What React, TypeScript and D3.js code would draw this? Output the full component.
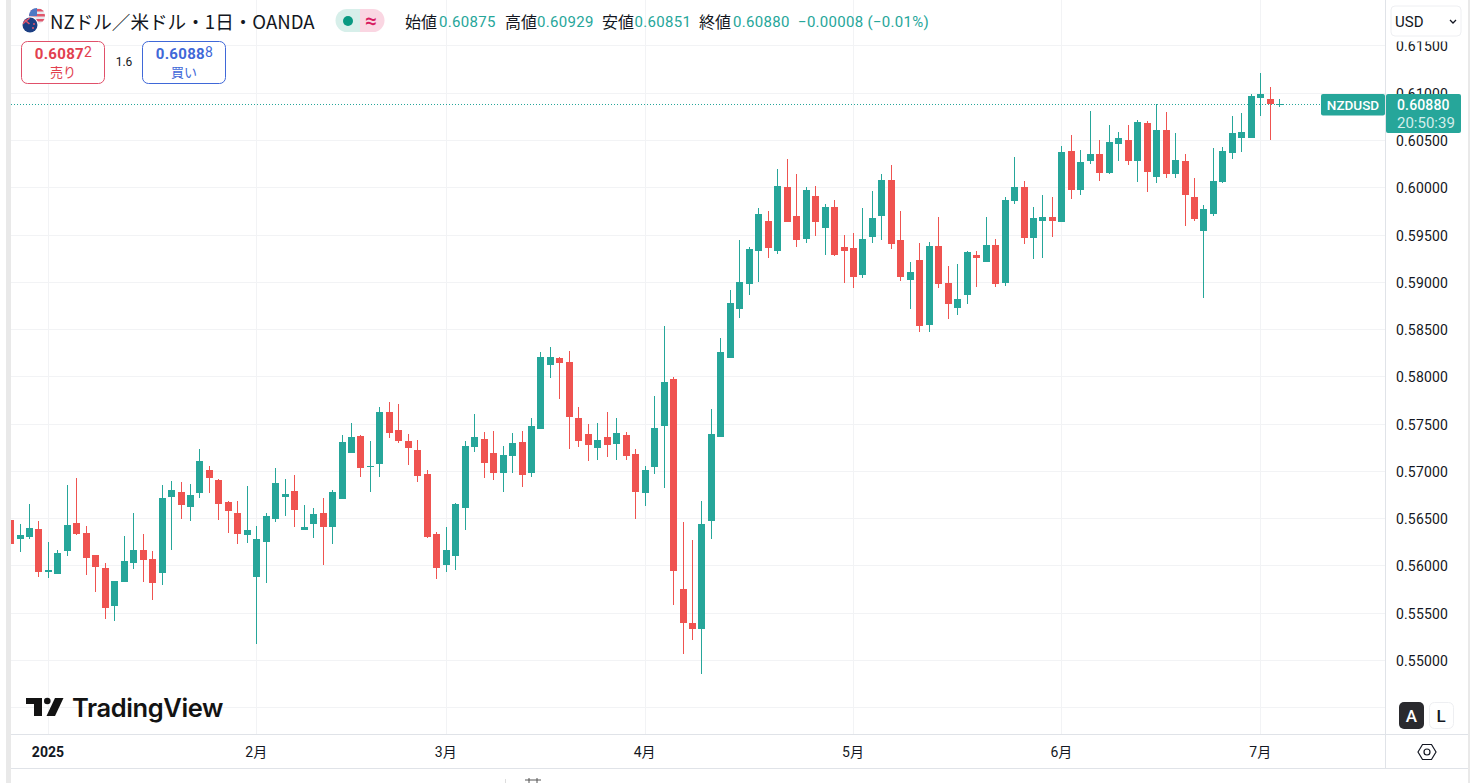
import React from "react";
import * as d3 from "d3";

const opens = [
  0.5648, 0.56279, 0.56301, 0.56385, 0.5593, 0.55909, 0.56153, 0.56449, 0.56343, 0.5611,
  0.55973, 0.55572, 0.55825, 0.56026, 0.56163, 0.56068, 0.5592, 0.56724, 0.56777, 0.56618,
  0.56766, 0.5701, 0.56904, 0.56671, 0.56554, 0.56322, 0.55877, 0.56248, 0.56491, 0.56724,
  0.56787, 0.56375, 0.56438, 0.56554, 0.56406, 0.56703, 0.57189, 0.57369, 0.57041, 0.57073,
  0.57623, 0.57433, 0.57316, 0.57221, 0.56967, 0.56332, 0.56004, 0.561, 0.56607, 0.57253,
  0.57337, 0.57189, 0.56978, 0.57158, 0.57306, 0.56978, 0.57443, 0.5812, 0.58194, 0.58152,
  0.5756, 0.5739, 0.57242, 0.57359, 0.57285, 0.5738, 0.57179, 0.56766, 0.57041, 0.57475,
  0.57972, 0.55751, 0.55392, 0.55328, 0.5647, 0.57359, 0.58194, 0.58713, 0.58978, 0.59327,
  0.59644, 0.59327, 0.60003, 0.59697, 0.59454, 0.59908, 0.5957, 0.59792, 0.59369, 0.59359,
  0.59073, 0.59475, 0.59697, 0.60077, 0.59443, 0.5902, 0.59231, 0.58544, 0.5938, 0.58989,
  0.58723, 0.58861, 0.59284, 0.59211, 0.5939, 0.58989, 0.59855, 0.60003, 0.59464, 0.59644,
  0.59686, 0.59633, 0.60384, 0.59971, 0.60278, 0.60352, 0.60151, 0.60458, 0.605, 0.60278,
  0.6068, 0.60108, 0.60606, 0.6014, 0.60278, 0.59898, 0.59538, 0.59718, 0.60056, 0.60363,
  0.60521, 0.60521, 0.60945, 0.60934, 0.60875,
];
const highs = [
  0.5648, 0.56438, 0.5665, 0.5647, 0.56248, 0.56163, 0.56851, 0.56925, 0.56417, 0.5611,
  0.56026, 0.55835, 0.56311, 0.56554, 0.56332, 0.56153, 0.56851, 0.56893, 0.56883, 0.56861,
  0.57232, 0.57052, 0.56914, 0.56681, 0.56681, 0.5684, 0.56417, 0.56554, 0.57031, 0.56914,
  0.56956, 0.56639, 0.56607, 0.56713, 0.56798, 0.5738, 0.57507, 0.5738, 0.57316, 0.57676,
  0.57729, 0.57708, 0.5739, 0.57327, 0.5701, 0.56353, 0.56406, 0.5666, 0.57316, 0.57602,
  0.57412, 0.57422, 0.57264, 0.57401, 0.57422, 0.5756, 0.58258, 0.58311, 0.58205, 0.58269,
  0.57676, 0.57496, 0.57507, 0.57623, 0.5756, 0.57412, 0.57232, 0.57052, 0.57792, 0.58533,
  0.57993, 0.56459, 0.56269, 0.56681, 0.57655, 0.58406, 0.58914, 0.59443, 0.59369, 0.59781,
  0.5975, 0.60193, 0.60299, 0.6014, 0.60003, 0.60013, 0.59824, 0.59866, 0.59496, 0.59517,
  0.59781, 0.59961, 0.6014, 0.60236, 0.5975, 0.59211, 0.59411, 0.59422, 0.59686, 0.59168,
  0.59189, 0.59327, 0.59327, 0.59686, 0.59454, 0.59898, 0.6032, 0.60066, 0.59792, 0.59919,
  0.59898, 0.60437, 0.60553, 0.60394, 0.60807, 0.605, 0.60659, 0.60585, 0.60659, 0.60712,
  0.60701, 0.60881, 0.60796, 0.60574, 0.60352, 0.60098, 0.59813, 0.60416, 0.60426, 0.60754,
  0.60786, 0.60987, 0.61209, 0.61061, 0.60929,
];
const lows = [
  0.56227, 0.56142, 0.56279, 0.55877, 0.55867, 0.55909, 0.561, 0.56322, 0.55899, 0.55719,
  0.55434, 0.55413, 0.55825, 0.55962, 0.55825, 0.55635, 0.55793, 0.56163, 0.56491, 0.5647,
  0.56713, 0.56766, 0.5648, 0.56343, 0.56227, 0.56237, 0.5517, 0.55814, 0.56459, 0.56523,
  0.56406, 0.56375, 0.5629, 0.56004, 0.56227, 0.56703, 0.57189, 0.56935, 0.56777, 0.56935,
  0.57348, 0.57295, 0.57062, 0.56883, 0.5629, 0.55856, 0.5593, 0.55951, 0.56375, 0.572,
  0.56925, 0.56904, 0.56777, 0.56978, 0.5683, 0.56935, 0.57443, 0.57983, 0.57761, 0.57232,
  0.57253, 0.57105, 0.57115, 0.57147, 0.57115, 0.57115, 0.56491, 0.56628, 0.56967, 0.56819,
  0.55582, 0.55064, 0.55212, 0.54852, 0.56279, 0.57359, 0.58194, 0.58618, 0.58861, 0.58999,
  0.59253, 0.59295, 0.59633, 0.59369, 0.59411, 0.59485, 0.59284, 0.59274, 0.58989, 0.58935,
  0.59042, 0.59411, 0.59443, 0.59348, 0.5901, 0.58713, 0.5847, 0.5847, 0.58935, 0.58607,
  0.5865, 0.58766, 0.58946, 0.59211, 0.58946, 0.58957, 0.59824, 0.59401, 0.59242, 0.59253,
  0.59475, 0.59633, 0.59876, 0.59919, 0.60246, 0.60066, 0.6014, 0.60278, 0.60236, 0.60056,
  0.5995, 0.60045, 0.60098, 0.60098, 0.59591, 0.59644, 0.58829, 0.59697, 0.60045, 0.60299,
  0.60373, 0.60521, 0.60754, 0.605, 0.60851,
];
const closes = [
  0.56227, 0.56322, 0.56396, 0.5593, 0.55951, 0.56131, 0.56428, 0.56332, 0.56079, 0.55983,
  0.5555, 0.55835, 0.56047, 0.56163, 0.56057, 0.55814, 0.56713, 0.56798, 0.56639, 0.56745,
  0.57105, 0.56925, 0.5665, 0.56576, 0.56332, 0.56375, 0.56279, 0.56523, 0.56872, 0.56756,
  0.56586, 0.56406, 0.56544, 0.56406, 0.56777, 0.57306, 0.57359, 0.57031, 0.57052, 0.57623,
  0.57401, 0.57316, 0.57242, 0.56946, 0.56301, 0.55973, 0.56163, 0.5665, 0.57264, 0.57359,
  0.57084, 0.56978, 0.57168, 0.57295, 0.56956, 0.57475, 0.58205, 0.58205, 0.58141, 0.5757,
  0.57316, 0.57274, 0.57327, 0.57274, 0.57401, 0.57158, 0.56777, 0.5701, 0.57454, 0.5794,
  0.55941, 0.55392, 0.55328, 0.56438, 0.5739, 0.58258, 0.58776, 0.58999, 0.59348, 0.59718,
  0.59359, 0.60013, 0.59633, 0.59443, 0.59971, 0.59633, 0.59792, 0.59284, 0.59327, 0.59052,
  0.59454, 0.59676, 0.60077, 0.59401, 0.59052, 0.59104, 0.58533, 0.5938, 0.58978, 0.58766,
  0.58819, 0.59316, 0.59253, 0.5939, 0.58978, 0.59866, 0.60003, 0.59464, 0.59676, 0.59686,
  0.59644, 0.60373, 0.59971, 0.60268, 0.60352, 0.60151, 0.60479, 0.60521, 0.60278, 0.60691,
  0.60162, 0.60606, 0.6014, 0.60288, 0.59919, 0.59665, 0.59771, 0.60066, 0.60384, 0.60574,
  0.60585, 0.60965, 0.60987, 0.60881, 0.6088,
];

const priceTicks = [
  0.615, 0.61, 0.605, 0.6, 0.595, 0.59, 0.585, 0.58, 0.575, 0.57, 0.565, 0.56, 0.555, 0.55,
];
const extraGrid = [0.545];
const monthLabels = ["2025", "2月", "3月", "4月", "5月", "6月", "7月"];
const monthBars = [4, 26, 46, 67, 89, 111, 132];

const legendItems = [
  { label: "始値", value: "0.60875", lx: 405, vx: 439 },
  { label: "高値", value: "0.60929", lx: 505, vx: 537 },
  { label: "安値", value: "0.60851", lx: 602, vx: 634.5 },
  { label: "終値", value: "0.60880", lx: 699, vx: 733 },
];
const lastClose = 0.6088;

const width = 1470;
const height = 783;
const plot = { left: 11, right: 1385, bottom: 734, axisBottom: 768 };
const up = "#26a69a";
const down = "#ef5350";
const gridColor = "#f2f3f5";
const lineColor = "#e0e3e8";
const textColor = "#131722";
const sans = "Roboto, 'Noto Sans CJK JP', sans-serif";
const jp = "'Noto Sans CJK JP', sans-serif";

const App: React.FC = () => {
  const x = d3.scaleLinear().domain([26, 132]).range([256.3, 1260.3]);
  const y = d3.scaleLinear().domain([0.545, 0.6]).range([707.3, 187.3]);
  const bars = d3.range(opens.length);
  const lastY = Math.round(y(lastClose)) + 0.5;

  return (
    <svg
      width={width}
      height={height}
      viewBox={`0 0 ${width} ${height}`}
      style={{ position: "fixed", top: 0, left: 0, display: "block", background: "#fff" }}
    >
      <defs>
        <clipPath id="pane">
          <rect x={plot.left} y={0} width={plot.right - plot.left} height={plot.bottom} />
        </clipPath>
        <clipPath id="flagA">
          <circle cx={37} cy={16} r={8} />
        </clipPath>
        <clipPath id="flagB">
          <circle cx={30} cy={25} r={7.5} />
        </clipPath>
      </defs>

      {/* side strips */}
      <rect x={6} y={0} width={5} height={height} fill="#e9e9e9" />
      <rect x={1468} y={0} width={2} height={height} fill="#e9e9e9" />

      {/* grid */}
      {[...priceTicks, ...extraGrid].map((p) => (
        <line
          key={p}
          x1={plot.left}
          x2={plot.right}
          y1={Math.round(y(p)) + 0.5}
          y2={Math.round(y(p)) + 0.5}
          stroke={gridColor}
        />
      ))}
      {monthBars.map((b) => (
        <line
          key={b}
          x1={Math.round(x(b)) + 0.5}
          x2={Math.round(x(b)) + 0.5}
          y1={0}
          y2={plot.bottom}
          stroke={gridColor}
        />
      ))}

      {/* last price line */}
      <line
        x1={plot.left}
        x2={1321}
        y1={lastY}
        y2={lastY}
        stroke={up}
        strokeDasharray="1 2"
      />

      {/* candles */}
      <g clipPath="url(#pane)" shapeRendering="crispEdges">
        {bars.map((i) => {
          const color = closes[i] >= opens[i] ? up : down;
          const cx = Math.round(x(i));
          const top = Math.round(y(Math.max(opens[i], closes[i])));
          const bottom = Math.round(y(Math.min(opens[i], closes[i])));
          return (
            <g key={i} fill={color}>
              <rect
                x={cx}
                y={Math.round(y(highs[i]))}
                width={1}
                height={Math.max(1, Math.round(y(lows[i])) - Math.round(y(highs[i])))}
              />
              <rect x={cx - 3} y={top} width={7} height={Math.max(1, bottom - top)} />
            </g>
          );
        })}
      </g>

      {/* axis frame */}
      <line x1={plot.right + 0.5} x2={plot.right + 0.5} y1={0} y2={plot.axisBottom} stroke={lineColor} />
      <line x1={plot.left} x2={1468} y1={plot.bottom + 0.5} y2={plot.bottom + 0.5} stroke={lineColor} />
      <line x1={plot.left} x2={1468} y1={plot.axisBottom + 0.5} y2={plot.axisBottom + 0.5} stroke={lineColor} />

      {/* price axis */}
      {priceTicks.map((p) => (
        <text
          key={p}
          x={1396}
          y={y(p) + 6}
          fontFamily={sans}
          fontSize={14}
          letterSpacing={0.15}
          fill={textColor}
        >
          {p.toFixed(5)}
        </text>
      ))}

      {/* time axis */}
      {monthBars.map((b, i) => (
        <text
          key={b}
          x={x(b)}
          y={757}
          textAnchor="middle"
          fontFamily={sans}
          fontSize={14}
          fontWeight={i === 0 ? 700 : 400}
          fill={textColor}
        >
          {monthLabels[i]}
        </text>
      ))}

      {/* last price tags */}
      <rect x={1321} y={94} width={64} height={21.5} rx={2} fill={up} />
      <text x={1353} y={110} textAnchor="middle" fontFamily={sans} fontSize={13.5} fontWeight={500} fill="#fff">
        NZDUSD
      </text>
      <rect x={1386} y={94} width={75} height={39} rx={2} fill={up} />
      <text x={1397} y={110} fontFamily={sans} fontSize={14} fontWeight={500} letterSpacing={0.15} fill="#fff">
        0.60880
      </text>
      <text x={1397} y={127.5} fontFamily={sans} fontSize={15} fill="#d4eeeb">
        20:50:39
      </text>

      {/* currency select, the box hides the top of the first price label */}
      <rect x={1386} y={0} width={82} height={41.5} fill="#fff" />
      <rect x={1391} y={6} width={70} height={30} rx={4} fill="#fff" stroke="#eeeff2" />
      <text x={1395} y={27} fontFamily={sans} fontSize={15} fill={textColor}>
        USD
      </text>
      <path d="M1450 20l3 3 3-3" fill="none" stroke={textColor} strokeWidth={1.3} />

      {/* header */}
      <g clipPath="url(#flagA)">
        <rect x={29} y={8} width={16} height={16} fill="#e8e8ee" />
        <rect x={29} y={9} width={16} height={2.5} fill="#e0566b" />
        <rect x={29} y={14} width={16} height={2.5} fill="#e0566b" />
        <rect x={29} y={19} width={16} height={2.5} fill="#e0566b" />
        <rect x={29} y={8} width={8} height={8} fill="#4f78c4" />
      </g>
      <circle cx={30} cy={25} r={8.5} fill="#fff" />
      <g clipPath="url(#flagB)">
        <rect x={22} y={17} width={16} height={16} fill="#1c3f83" />
        <path d="M22.5 18l7 6M29.5 18l-7 6" stroke="#e0566b" strokeWidth={1.6} />
        <circle cx={34} cy={24} r={1} fill="#e0566b" />
        <circle cx={33} cy={28} r={1} fill="#e0566b" />
      </g>
      <text x={50} y={28.5} fontFamily={jp} fontSize={18.6} fill={textColor}>
        NZドル／米ドル・1日・OANDA
      </text>

      <path d="M347 9h13v23h-13a11.500 11.500 0 0 1 0-23z" fill="#d7efea" />
      <path d="M360 9h13a11.500 11.500 0 0 1 0 23h-13z" fill="#fad6e2" />
      <circle cx={348} cy={21} r={5} fill="#089981" />
      <text x={371} y={27.5} textAnchor="middle" fontFamily={sans} fontSize={21} fontWeight={500} fill="#d81b60">
        ≈
      </text>

      {legendItems.map((d) => (
        <g key={d.label}>
          <text x={d.lx} y={28} fontFamily={jp} fontSize={16} fill={textColor}>
            {d.label}
          </text>
          <text x={d.vx} y={26.5} fontFamily={sans} fontSize={15} fill={up} letterSpacing={0.3}>
            {d.value}
          </text>
        </g>
      ))}
      <text x={798} y={27} fontFamily={sans} fontSize={15} fill={up} letterSpacing={0.3}>
        −0.00008 (−0.01%)
      </text>

      {/* sell and buy buttons */}
      <rect x={21.5} y={41.5} width={83} height={42} rx={6} fill="#fff" stroke="#e0506a" />
      <text x={63.5} y={59} textAnchor="middle" fontFamily={sans} fontSize={15} fontWeight={700} letterSpacing={0.3} fill="#e2404f">
        0.6087<tspan fontSize={14} fontWeight={400} dy={-2}>2</tspan>
      </text>
      <text x={63} y={77} textAnchor="middle" fontFamily={jp} fontSize={13} fill="#e2404f">
        売り
      </text>
      <text x={124} y={66} textAnchor="middle" fontFamily={sans} fontSize={12} fill={textColor}>
        1.6
      </text>
      <rect x={142.5} y={41.5} width={83} height={42} rx={6} fill="#fff" stroke="#3f68d8" />
      <text x={184.5} y={59} textAnchor="middle" fontFamily={sans} fontSize={15} fontWeight={700} letterSpacing={0.3} fill="#3f68d8">
        0.6088<tspan fontSize={14} fontWeight={400} dy={-2}>8</tspan>
      </text>
      <text x={184} y={77} textAnchor="middle" fontFamily={jp} fontSize={13} fill="#3f68d8">
        買い
      </text>

      {/* logo */}
      <g fill="#131313">
        <path d="M26 698h16v18h-8v-12h-8z" />
        <circle cx={47.3} cy={701} r={3.3} />
        <path d="M55 698h8.500l-8.500 18h-8.500z" />
        <text x={72} y={717} fontFamily="Inter, sans-serif" fontSize={25.5} fontWeight={600} letterSpacing={-0.4}>
          TradingView
        </text>
      </g>

      {/* scale mode buttons */}
      <rect x={1399} y={702} width={25} height={27} rx={5} fill="#2a2a2e" />
      <text x={1411.5} y={721.5} textAnchor="middle" fontFamily={sans} fontSize={17} fontWeight={500} fill="#fff">
        A
      </text>
      <rect x={1429.5} y={702.5} width={24} height={26} rx={5} fill="#fff" stroke="#eeeff2" />
      <text x={1441} y={721.5} textAnchor="middle" fontFamily={sans} fontSize={17} fontWeight={500} fill={textColor}>
        L
      </text>

      {/* settings */}
      <path
        d="M1418 752l4.500-7.500h9l4.500 7.500-4.500 7.500h-9z"
        fill="none"
        stroke={textColor}
        strokeWidth={1.2}
      />
      <circle cx={1427} cy={752} r={3} fill="none" stroke={textColor} strokeWidth={1.2} />

      {/* cut-off text at the page bottom */}
      <rect x={505} y={779} width={1} height={4} fill="#ddd" />
      <path d="M525 780h16M529 778v5M537 778v5" stroke="#555" strokeWidth={1} fill="none" />
    </svg>
  );
};

export default App;
